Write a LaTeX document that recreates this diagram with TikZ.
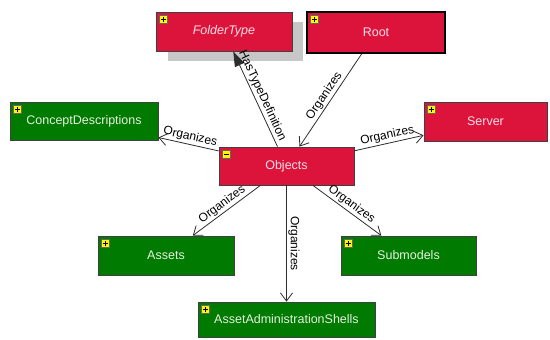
\documentclass[tikz,border=0pt]{standalone}
\usepackage{fontspec}
\setmainfont{Liberation Sans}
\usetikzlibrary{arrows.meta}
\definecolor{boxred}{RGB}{220,20,60}
\definecolor{boxgreen}{RGB}{0,122,0}
\definecolor{redtext}{RGB}{250,222,230}
\definecolor{greentext}{RGB}{228,242,222}
\definecolor{iconyellow}{RGB}{255,245,0}
\definecolor{edgegray}{RGB}{45,45,45}
\begin{document}
\begin{tikzpicture}[x=1pt,y=-1pt,
  box/.style={draw=black!75, line width=0.8pt, inner sep=0pt, anchor=center,
    font=\fontsize{12.5}{14}\selectfont},
  redbox/.style={box, fill=boxred, text=redtext},
  greenbox/.style={box, fill=boxgreen, text=greentext},
  minusicon/.style={path picture={
    \fill[iconyellow, draw=black!60, line width=0.4pt]
      ([shift={(3.5pt,-3.5pt)}]path picture bounding box.north west) rectangle ++(8pt,-8pt);
    \draw[black, line width=1pt]
      ([shift={(5pt,-7.5pt)}]path picture bounding box.north west) -- ++(5pt,0pt);}},
  plusicon/.style={path picture={
    \fill[iconyellow, draw=black!60, line width=0.4pt]
      ([shift={(3.5pt,-3.5pt)}]path picture bounding box.north west) rectangle ++(8pt,-8pt);
    \draw[black, line width=1pt]
      ([shift={(5pt,-7.5pt)}]path picture bounding box.north west) -- ++(5pt,0pt);
    \draw[black, line width=1pt]
      ([shift={(7.5pt,-5pt)}]path picture bounding box.north west) -- ++(0pt,-5pt);}},
  rel/.style={draw=edgegray, line width=0.8pt, -{Straight Barb[length=8pt,width=12pt]}},
  htd/.style={draw=edgegray, line width=0.8pt, -{Triangle[length=15pt,width=10pt]}},
  lbl/.style={font=\fontsize{12}{13}\selectfont, text=black, inner sep=1.5pt, sloped, above}
]
\useasboundingbox (0,0) rectangle (550,340);

% shadow behind FolderType
\fill[black!22] (168,22) rectangle (303,61);

\node[redbox, plusicon, minimum width=136pt, minimum height=39pt, font=\fontsize{12.5}{14}\selectfont\itshape] (ft) at (224,31.5) {FolderType};
\node[redbox, plusicon, draw=black, line width=1.8pt, minimum width=138pt, minimum height=41pt] (root) at (376,32.5) {Root};
\node[greenbox, plusicon, minimum width=148pt, minimum height=38pt] (cd) at (84,121) {ConceptDescriptions};
\node[redbox, minusicon, minimum width=135pt, minimum height=38pt] (obj) at (286.5,166) {Objects};
\node[redbox, plusicon, minimum width=123pt, minimum height=39pt] (srv) at (485.5,121.5) {Server};
\node[greenbox, plusicon, minimum width=136pt, minimum height=39pt] (assets) at (166,255.5) {Assets};
\node[greenbox, plusicon, minimum width=135pt, minimum height=39pt] (sub) at (408.5,255.5) {Submodels};
\node[greenbox, plusicon, minimum width=177pt, minimum height=35pt] (aas) at (286.5,319.5) {AssetAdministrationShells};

\draw[rel] (root) -- node[lbl] {Organizes} (obj);
\draw[htd] (obj) -- node[lbl] {HasTypeDefinition} (ft);
\draw[rel] (obj) -- node[lbl] {Organizes} (cd);
\draw[rel] (obj) -- node[lbl] {Organizes} (srv);
\draw[rel] (obj) -- node[lbl] {Organizes} (assets);
\draw[rel] (obj) -- node[lbl] {Organizes} (sub);
\draw[rel] (obj) -- node[lbl] {Organizes} (obj |- aas.north);
\end{tikzpicture}
\end{document}
